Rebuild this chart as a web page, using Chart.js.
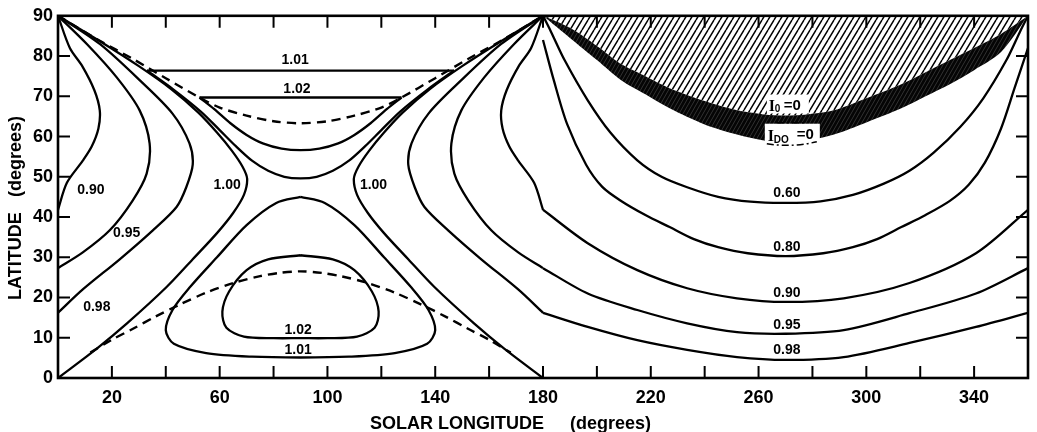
<!DOCTYPE html>
<html>
<head>
<meta charset="utf-8">
<script src="https://cdn.jsdelivr.net/npm/chart.js@4.4.1/dist/chart.umd.min.js"></script>
<style>
  html, body { margin: 0; padding: 0; background: #fff; }
  #wrap { width: 1037px; height: 432px; }
</style>
</head>
<body>
<div id="wrap"><canvas id="chart" width="1037" height="432"></canvas></div>
<script>
// Insolation ratio contours vs solar longitude / latitude.
// Every curve is a list of [longitude, latitude] pairs.
const xTickLabels = [20, 60, 100, 140, 180, 220, 260, 300, 340];
const yTickLabels = [0, 10, 20, 30, 40, 50, 60, 70, 80, 90];

// 0 - 180: western side lobes
const c090West = [[0,90],[4.4,82],[9,77.5],[13.5,71.5],[15.5,66.5],[15,62],[12.5,57.5],[9.2,54],[3.3,48.5],[0,41.8]];
const c095West = [[0,90],[10.7,83],[21.8,74.7],[30.3,66.5],[34,58.3],[32.9,50.8],[27.7,44.1],[19.2,36.7],[9.2,31.2],[0,27.3]];
const c098West = [[0,90],[15.5,83],[30.3,74],[42.5,65.7],[48.8,58.3],[50,53],[47.6,47.4],[44,42.5],[35.2,36.7],[22.9,29.5],[9.2,22],[0,16.2]];
const c100West = [[0,90],[16,83.5],[30,77.5],[42,71.8],[52,66],[59,61],[64.5,56.5],[68.5,52.5],[70.2,49.5],[69,45.5],[65,41],[59,36],[50,29.5],[40.3,22.6],[25.5,13.5],[14.4,7.3],[0,0]];

// 0 - 180: eastern side lobes
const c090East = [[180,90],[175.6,82],[171,77.5],[166.5,71.5],[164.5,66.5],[165,62],[167.5,57.5],[170.8,54],[176.7,48.5],[180,41.8]];
const c095East = [[180,90],[169.3,83],[158.2,74.7],[149.7,66.5],[146,58.3],[147.1,50.8],[152.3,44.1],[160.8,36.7],[170.8,31.2],[180,27.3]];
const c098East = [[180,90],[164.5,83],[149.7,74],[137.5,65.7],[131.2,58.3],[130,53],[132.4,47.4],[136,42.5],[144.8,36.7],[157.1,29.5],[170.8,22],[180,16.2]];
const c100East = [[180,90],[164,83.5],[150,77.5],[138,71.8],[128,66],[121,61],[115.5,56.5],[111.5,52.5],[109.8,49.5],[111,45.5],[115,41],[121,36],[130,29.5],[139.7,22.6],[154.5,13.5],[165.6,7.3],[180,0]];

// 0 - 180: northern loops (flat top edge + curved lower edge)
const c101NorthTop = [[33,76.4],[147,76.4]];
const c101NorthLow = [[33,76.4],[43,71.6],[53,66.2],[60,61.6],[66,57.6],[72,54],[78,51.5],[84,50],[90,49.6],[96,50],[102,51.5],[108,54],[114,57.6],[120,61.6],[127,66.2],[137,71.6],[147,76.4]];
const c102NorthTop = [[52.5,69.7],[127.5,69.7]];
const c102NorthLow = [[52.5,69.7],[58,66.8],[64,63.3],[70,60.4],[76,58.3],[83,57],[90,56.6],[97,57],[104,58.3],[110,60.4],[116,63.3],[122,66.8],[127.5,69.7]];

// 0 - 180: southern loops
const c101South = [[90,45],[99,43.5],[110,38],[121,30],[131,22.6],[137.5,16.9],[140,11.9],[137,8.5],[125,6.2],[108,5.3],[90,5.1],[72,5.3],[55,6.2],[43,8.5],[40,11.9],[42.5,16.9],[49,22.6],[59,30],[70,38],[81,43.5],[90,45]];
const c102South = [[90,30.5],[102,29.5],[110,26.8],[116.5,21.5],[119,16.5],[117.5,12.5],[111,10.3],[100,9.9],[90,9.9],[80,9.9],[69,10.3],[62.5,12.5],[61,16.5],[63.5,21.5],[70,26.8],[78,29.5],[90,30.5]];

// dashed curves
const dashNorth = [[0,90],[15,84],[28,79.2],[40,74.5],[52.5,69.7],[60,67.2],[70,65.2],[80,63.8],[90,63.3],[100,63.8],[110,65.2],[120,67.2],[127.5,69.7],[140,74.5],[152,79.2],[165,84],[180,90]];
const dashSouth = [[12,6.3],[20,9.5],[28,12.3],[36,15.2],[45,18.2],[55,21.2],[65,23.6],[75,25.3],[82,26.1],[90,26.5],[98,26.1],[105,25.3],[115,23.6],[125,21.2],[135,18.2],[144,15.2],[152,12.3],[160,9.5],[168,6.3]];

// 180 - 360
const r060 = [[180,90],[183,86],[188,79],[196.6,69],[205,61],[215,54.1],[224,50],[233.5,47.4],[245,45],[257,43.8],[270,43.5],[283,43.9],[295,45.5],[306.5,48.3],[316,51.5],[325,56],[335,62.5],[343.4,69.5],[352,79],[357,86],[360,90]];
const r080 = [[180,84],[184,74],[189,63],[196,53],[202,47.5],[209,44],[218,40.5],[227,37.5],[236,34.5],[245,32.5],[256,31],[270,30.3],[284,31],[295,32.5],[304,34.5],[313,37.5],[322,40.5],[331,44],[338,48],[344,53.5],[350,62],[355,72],[360,82]];
const r090 = [[180,41.8],[196.6,33.5],[215,26.8],[233.5,22.3],[252,19.8],[270,18.9],[291.6,19.8],[316,23.6],[340.7,31],[360,41.8]];
const r095 = [[180,27.3],[196.6,21],[215,16.9],[233.5,13.6],[252,11.4],[270,11],[291.6,11.9],[316,16.1],[340.7,21],[360,27.3]];
const r098 = [[180,16.2],[196.6,12.7],[215,9.4],[233.5,7],[252,5.2],[270,4.5],[291.6,5.2],[316,8.7],[340.7,12.7],[360,16.2]];

// polar night edges: I0 = 0 and ID0 = 0
const iZero = [[180,90],[190,87],[200,82.5],[209,78],[218,75],[227,72],[240,68.8],[252,66.5],[262,65.5],[270,65.2],[278,65.5],[288,66.5],[300,69.5],[313,73],[322,76],[331,79],[340,82],[350,85.5],[360,90]];
const iDiurnal = [[180,90],[190,84.5],[200,79],[209,74],[218,70.5],[227,67],[240,63],[252,60.5],[262,59],[270,58.5],[278,59],[288,60.5],[300,63.5],[313,67],[322,70],[331,73],[340,76.5],[350,81],[360,90]];

// contour value labels and where they sit (longitude, latitude)
const labelText = ['0.90','0.95','0.98','1.00','1.00','1.01','1.02','1.02','1.01','0.60','0.80','0.90','0.95','0.98'];
const labelLon  = [12.2, 25.5, 14.4, 62.8, 117.1, 88.0, 88.7, 89.1, 89.1, 270.5, 270.5, 270.5, 270.5, 270.5];
const labelLat  = [46.6, 36.0, 17.6, 47.9, 47.9, 78.9, 71.9, 11.9, 6.9, 45.9, 32.5, 21.1, 13.1, 6.9];
const iZeroLabelAt = [270.5, 68.2];
const iDiurnalLabelAt = [271.6, 60.7];

function hatch(w, h, bg, fg, lw) {
    const c = document.createElement('canvas');
    c.width = w; c.height = h;
    const g = c.getContext('2d');
    if (bg) { g.fillStyle = bg; g.fillRect(0, 0, w, h); }
    g.strokeStyle = fg;
    g.lineWidth = lw;
    g.beginPath();
    for (const dx of [-w, 0, w]) {
        g.moveTo(dx, h);
        g.lineTo(dx + w, 0);
    }
    g.stroke();
    return g.createPattern(c, 'repeat');
}

function curve(points, extra) {
    return Object.assign({
        data: points.map(([x, y]) => ({ x, y })),
        showLine: true,
        borderColor: '#000',
        borderWidth: 2.3,
        pointRadius: 0,
        tension: 0.3,
        fill: false,
    }, extra || {});
}

const dashed = { borderDash: [9, 6], borderWidth: 2.4 };
const straight = { tension: 0 };

const datasets = [
    curve(iZero, { borderWidth: 0, fill: 'end', backgroundColor: hatch(6, 10, null, '#000', 1.5) }),
    curve(iDiurnal, { borderWidth: 0, fill: '-1', backgroundColor: hatch(4, 7, '#050505', 'rgba(255,255,255,0.3)', 0.6) }),
    curve(c090West), curve(c095West), curve(c098West), curve(c100West),
    curve(c090East), curve(c095East), curve(c098East), curve(c100East),
    curve(c101NorthTop, straight), curve(c101NorthLow),
    curve(c102NorthTop, straight), curve(c102NorthLow),
    curve(c101South), curve(c102South),
    curve(dashNorth, dashed), curve(dashSouth, dashed),
    curve(r060), curve(r080), curve(r090), curve(r095), curve(r098),
];

const FONT = '"Liberation Sans", Arial, sans-serif';

const contourLabels = {
    id: 'contourLabels',
    afterDatasetsDraw(chart) {
        const { ctx, scales: { x, y } } = chart;
        ctx.save();
        ctx.fillStyle = '#000';
        ctx.font = 'bold 14px ' + FONT;
        ctx.textAlign = 'center';
        ctx.textBaseline = 'middle';
        labelText.forEach((t, i) => {
            ctx.fillText(t, x.getPixelForValue(labelLon[i]), y.getPixelForValue(labelLat[i]));
        });

        // I0 = 0
        let px = x.getPixelForValue(iZeroLabelAt[0]);
        let py = y.getPixelForValue(iZeroLabelAt[1]);
        ctx.fillStyle = '#fff';
        ctx.fillRect(px - 20, py - 9, 42, 19);
        ctx.fillStyle = '#000';
        ctx.textAlign = 'left';
        ctx.textBaseline = 'alphabetic';
        ctx.font = 'bold 16px "Liberation Serif", serif';
        ctx.fillText('I', px - 18, py + 7);
        ctx.font = 'bold 10px ' + FONT;
        ctx.fillText('0', px - 12, py + 8);
        ctx.font = 'bold 15px ' + FONT;
        ctx.fillText('=0', px - 3, py + 6);

        // ID0 = 0, with the dash-dot edge running under it
        px = x.getPixelForValue(iDiurnalLabelAt[0]);
        py = y.getPixelForValue(iDiurnalLabelAt[1]);
        ctx.fillStyle = '#fff';
        ctx.fillRect(px - 25, py - 10, 55, 23);
        ctx.fillStyle = '#000';
        ctx.font = 'bold 16px "Liberation Serif", serif';
        ctx.fillText('I', px - 22, py + 7);
        ctx.font = 'bold 10px ' + FONT;
        ctx.fillText('DO', px - 16, py + 9);
        ctx.font = 'bold 15px ' + FONT;
        ctx.fillText('=0', px + 7, py + 5);
        ctx.strokeStyle = '#000';
        ctx.lineWidth = 1.5;
        ctx.setLineDash([7, 3, 2, 3]);
        ctx.beginPath();
        ctx.moveTo(px - 23, py + 10);
        ctx.quadraticCurveTo(px + 2, py + 14, px + 27, py + 8);
        ctx.stroke();
        ctx.beginPath();
        ctx.moveTo(px - 13, py - 11);
        ctx.lineTo(px + 14, py - 11);
        ctx.stroke();
        ctx.restore();
    }
};

const frameAndTicks = {
    id: 'frameAndTicks',
    afterDraw(chart) {
        const { ctx, chartArea: a, scales: { x, y } } = chart;
        ctx.save();
        ctx.strokeStyle = '#000';
        ctx.lineWidth = 2;
        ctx.beginPath();
        x.ticks.forEach((t) => {
            if (t.value <= 0 || t.value >= 360) return;
            const px = x.getPixelForValue(t.value);
            ctx.moveTo(px, a.bottom); ctx.lineTo(px, a.bottom - 12);
            ctx.moveTo(px, a.top); ctx.lineTo(px, a.top + 12);
        });
        y.ticks.forEach((t) => {
            if (t.value <= 0 || t.value >= 90) return;
            const py = y.getPixelForValue(t.value);
            ctx.moveTo(a.left, py); ctx.lineTo(a.left + 12, py);
            ctx.moveTo(a.right, py); ctx.lineTo(a.right - 12, py);
        });
        ctx.stroke();
        ctx.lineWidth = 2.6;
        ctx.strokeRect(a.left, a.top, a.right - a.left, a.bottom - a.top);

        // axis titles
        ctx.fillStyle = '#000';
        ctx.font = 'bold 18px ' + FONT;
        ctx.textAlign = 'left';
        ctx.textBaseline = 'alphabetic';
        ctx.fillText('SOLAR LONGITUDE', a.left + 312, a.bottom + 51);
        ctx.fillText('(degrees)', a.left + 512, a.bottom + 51);
        ctx.translate(21, 0);
        ctx.rotate(-Math.PI / 2);
        ctx.fillText('LATITUDE', -300, 0);
        ctx.fillText('(degrees)', -197, 0);
        ctx.restore();
    }
};

new Chart(document.getElementById('chart'), {
    type: 'scatter',
    data: { datasets },
    options: {
        responsive: false,
        devicePixelRatio: 1,
        animation: false,
        events: [],
        layout: { padding: { top: 15, right: 5, left: 0, bottom: 0 } },
        plugins: { legend: { display: false }, tooltip: { enabled: false } },
        scales: {
            x: {
                type: 'linear',
                min: 0,
                max: 360,
                afterFit: (s) => { s.height = 54; },
                grid: { display: false, drawTicks: false },
                border: { display: false },
                ticks: {
                    stepSize: 20,
                    autoSkip: false,
                    maxRotation: 0,
                    padding: 9,
                    color: '#000',
                    font: { family: FONT, size: 18, weight: 'bold' },
                    callback: (v) => (xTickLabels.includes(v) ? String(v) : ''),
                },
            },
            y: {
                min: 0,
                max: 90,
                afterFit: (s) => { s.width = 58; },
                grid: { display: false, drawTicks: false },
                border: { display: false },
                ticks: {
                    stepSize: 10,
                    padding: 5,
                    color: '#000',
                    font: { family: FONT, size: 18, weight: 'bold' },
                    callback: (v) => (yTickLabels.includes(v) ? String(v) : ''),
                },
            },
        },
    },
    plugins: [contourLabels, frameAndTicks],
});
</script>
</body>
</html>
